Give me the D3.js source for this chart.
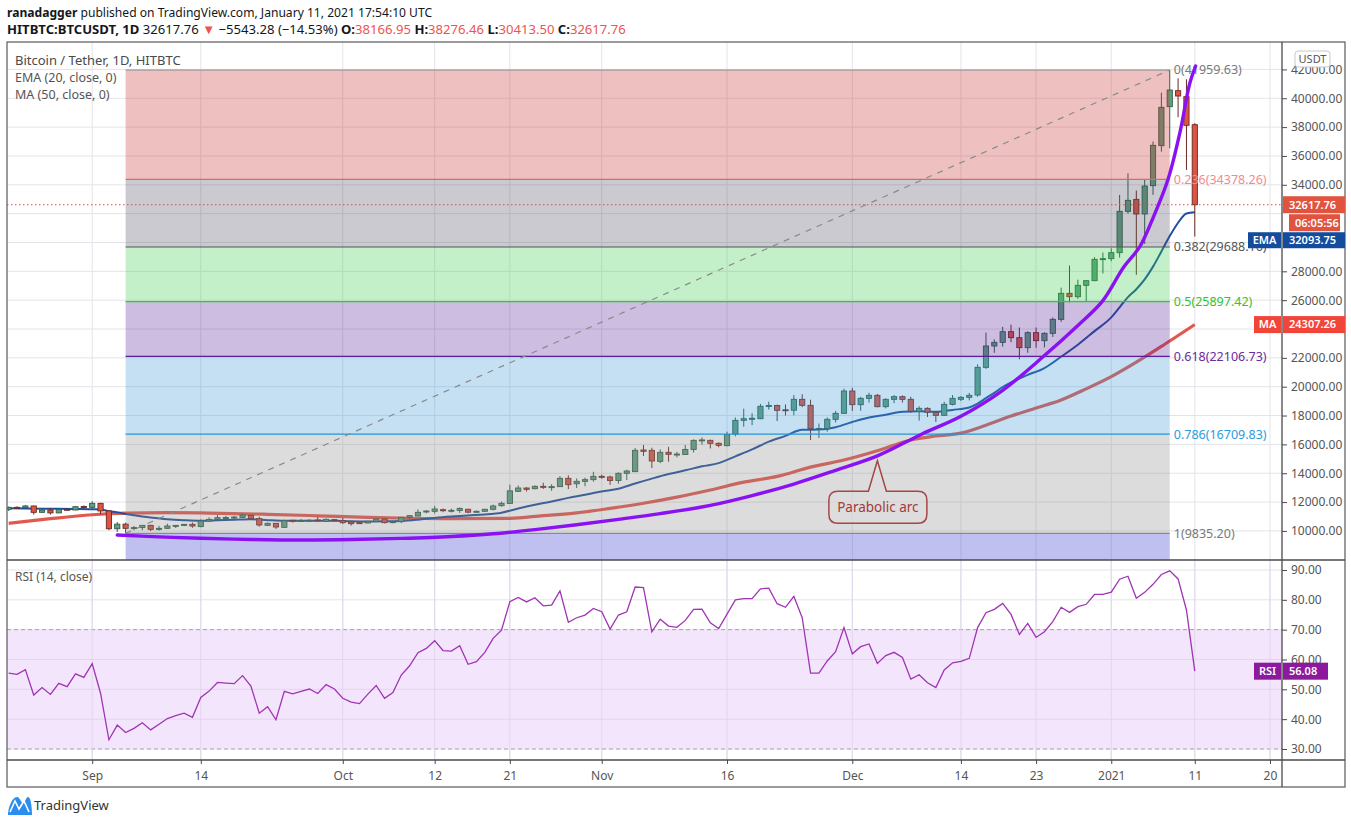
<!DOCTYPE html>
<html><head><meta charset="utf-8">
<script src="https://cdn.jsdelivr.net/npm/d3@7/dist/d3.min.js"></script>
<style>
html,body{margin:0;padding:0;background:#fff;overflow:hidden;}
svg{display:block;font-family:"Noto Sans","Open Sans",sans-serif;}
</style></head>
<body><svg id="c" width="1351" height="824"></svg>
<script>
// ---------------- DATA ----------------
const firstCandle = "2020-08-22";   // one candle per day from here
const opens = [
 11500,11636,11610,11730,11290,11450,11250,11500,11450,11690,
 11636,11913,11390,10150,10470,10180,10230,10385,10110,10180,10340,10385,10455,10300,10680,10790,10920,10930,10940,11081,10850,10388,10526,10249,10740,10690,10720,10760,10665,10780,
 10711,10619,10573,10549,10665,10827,10573,10642,10942,11035,11312,11360,11470,11420,11420,11500,11300,11360,11500,11750,11910,12745,12976,12930,13090,13030,13070,13646,13270,13440,13555,
 13785,13740,13500,13993,14110,15611,15588,14825,15450,15310,15300,15650,16280,16280,16075,15910,16720,17668,17750,17780,18640,18700,18400,18370,19124,18708,17090,17090,17737,18153,
 19702,18754,19193,19402,18616,19124,19309,19124,18292,18500,18223,18015,18777,19124,19263,19425,21343,22822,23077,23816,23400,22707,23747,23192,23700,24671,26474,26240,27029,27352,28832,
 28880,29294,32160,32990,31975,33939,36713,39417,40526,40110,38166.95];
const highs = [
 11690,11700,11800,11750,11530,11580,11550,11580,11720,11770,
 12060,11950,11450,10620,10570,10340,10400,10430,10350,10500,10400,10480,10580,10800,10940,11100,11040,11040,11180,11090,10990,10580,10550,10780,10760,10820,10800,10960,10860,10830,
 10900,10650,10600,10700,10840,10840,10690,10950,11100,11490,11440,11730,11560,11550,11630,11540,11420,11530,11830,12030,13200,13150,13030,13160,13340,13240,13800,13860,13640,13690,14100,
 13900,13830,14060,14250,15750,15960,15770,15650,15830,15480,15960,16350,16480,16330,16140,16880,17860,18480,18160,18800,18960,18750,18770,19420,19480,19100,17450,17870,18320,19860,
 19920,19300,19580,19500,19200,19420,19400,19300,18640,18570,18280,18950,19420,19350,19570,21550,23750,23280,24150,24300,24100,23840,24100,23780,24800,26870,28400,27420,27400,28980,29300,
 29600,33300,34800,33600,34400,37000,40390,41959.63,41383,41314,38276.46];
const lows = [
 11380,11530,11580,11130,11260,11130,11230,11420,11430,11560,
 11540,11160,10050,9930,9835.2,10040,10050,9990,10020,10150,10200,10330,10220,10250,10630,10680,10740,10820,10890,10780,10290,10350,10140,10200,10580,10660,10630,10670,10630,10660,
 10480,10370,10500,10530,10620,10520,10530,10540,10830,11010,11220,11200,11300,11280,11250,11220,11260,11330,11420,11680,11890,12700,12730,12880,12910,12780,13060,12900,12980,13100,13420,
 13620,13200,13280,13530,14080,15200,14360,14700,14800,15100,15280,15440,15980,15720,15800,15860,16560,17220,17340,17750,18410,17620,18000,18020,18580,16300,16450,16880,17520,18150,
 18320,18330,18900,18570,18500,18860,18900,18200,17650,17900,17560,18000,18700,19000,19050,19300,21230,22350,22780,23080,21900,22350,22700,22720,23450,24500,25850,26090,25870,27320,27850,
 28700,28950,32000,27750,29900,33300,36300,36530,38680,35026,30413.5];
const closes = [
 11636,11610,11730,11290,11450,11250,11500,11450,11680,11620,
 11913,11382,10150,10470,10180,10230,10385,10110,10180,10340,10385,10455,10340,10690,10800,10920,10930,10960,11104,10850,10411,10526,10272,10711,10690,10720,10740,10700,10804,10711,
 10573,10503,10526,10665,10827,10573,10642,10942,11058,11289,11381,11520,11420,11430,11560,11300,11360,11500,11728,11913,12780,12976,12885,13090,13030,13070,13646,13207,13440,13555,13785,
 13740,13500,13993,14155,15588,15519,14848,15450,15310,15330,15650,16280,16310,16075,15935,16675,17668,17780,17810,18640,18700,18362,18370,19125,18708,17090,17100,17737,18153,19702,
 18754,19193,19402,18616,19124,19309,19124,18292,18500,18223,18015,18777,19193,19263,19402,21343,22822,23077,23816,23400,22707,23747,23192,23700,24671,26474,26240,27029,27352,28832,28880,
 29294,32160,32922,31975,33916,36736,39371,40573,40157,38124,32617.76];
const rsiValues = [
 55.4,55.0,56.6,48.1,50.6,48.3,52.0,50.9,55.2,54.0,
 58.6,48.7,33.1,38.0,35.5,36.9,38.8,36.4,38.3,40.2,41.2,42.0,40.6,47.3,49.4,52.3,52.1,51.9,54.6,51.1,
 42.0,44.2,39.8,49.3,48.5,49.3,50.1,48.6,51.6,50.1,47.0,45.7,45.2,48.4,51.3,47.0,48.9,54.8,57.9,62.3,
 63.7,66.3,63.0,62.8,64.6,58.4,59.3,62.4,67.1,69.8,79.4,80.8,79.3,80.7,78.0,78.2,83.0,72.5,74.0,74.9,
 77.1,76.0,70.2,74.9,76.0,84.3,84.1,69.3,73.5,71.2,70.8,73.1,76.8,76.9,72.3,70.4,75.2,80.0,80.4,80.4,
 83.7,83.9,78.7,77.5,81.2,74.0,55.4,55.4,59.5,62.6,70.7,61.9,64.3,65.2,58.7,61.3,62.4,60.7,53.4,54.9,
 52.2,50.6,56.5,58.9,59.4,60.4,70.7,75.7,76.8,78.8,75.1,68.4,72.1,67.4,69.3,72.7,77.5,75.8,77.7,78.5,
 81.8,81.8,82.6,86.9,87.9,80.5,82.5,85.2,88.5,89.7,87.0,76.6,56.08];

// indicator lines: [days after 2020-09-01, price]
const emaPoints = [[-10,11570],[-6,11540],[-2,11520],[0,11500],[1,11480],[2,11370],[3,11285],[4,11180],[5,11090],[7,10936],[9,10814],[11,10743],[13,10703],[15,10732],[17,10771],[19,10807],[21,10746],[23,10702],[25,10700],[27,10700],[29,10705],[31,10672],[33,10659],[35,10665],[37,10690],[39,10779],[41,10901],[43,10996],[45,11074],[47,11139],[49,11263],[51,11558],[53,11818],[55,12041],[57,12290],[59,12510],[61,12737],[63,12923],[65,13283],[67,13625],[69,13943],[71,14200],[73,14480],[75,14700],[77,15170],[79,15650],[81,16190],[83,16590],[85,17010],[87,17025],[89,17190],[91,17555],[93,17870],[95,18055],[97,18265],[99,18290],[101,18258],[103,18391],[105,18562],[106,18827],[107,19207],[108,19576],[109,19980],[110,20305],[112,20816],[114,21295],[116,22078],[118,22908],[120,23855],[122,24805],[123,25505],[124,26211],[125,26760],[126,27441],[127,28326],[128,29378],[129,30444],[130,31369],[131,32012],[132,32093.75]];
const maPoints = [[-10,10526],[-5,10850],[0,11120],[4,11230],[9,11265],[14,11240],[21,11150],[27,11050],[33,10943],[38,10880],[43,10850],[50,10874],[54,11060],[58,11250],[62,11560],[66,11916],[70,12340],[74,12837],[78,13380],[82,13780],[86,14420],[90,14917],[94,15560],[98,16304],[101,16580],[104,16780],[107,17330],[110,17965],[113,18520],[116,19077],[119,19850],[122,20695],[125,21700],[128,22790],[130,23550],[132,24307.26]];
const arcPoints = [[3,9718],[8,9590],[13,9490],[19,9410],[25,9370],[31,9400],[37,9480],[43,9610],[48,9800],[53,10090],[58,10430],[63,10800],[68,11200],[74,11770],[79,12450],[84,13250],[89,14200],[94,15200],[99.3,16709],[104,17950],[109,19750],[113.9,22106],[118,24250],[120.9,25897],[123.5,28300],[125.4,29688],[127,31700],[128.8,34378],[130.2,37570],[131.4,41037],[132.1,42237]];

// Fibonacci retracement
const fibStart = "2020-09-05", fibEnd = "2021-01-08";
const fibRatios = ["0","0.236","0.382","0.5","0.618","0.786","1"];
const fibValues = [41959.63,34378.26,29688.16,25897.42,22106.73,16709.83,9835.20];

// axes
const xTickDates = ["2020-09-01","2020-09-14","2020-10-01","2020-10-12","2020-10-21","2020-11-01","2020-11-16","2020-12-01","2020-12-14","2020-12-23","2021-01-01","2021-01-11","2021-01-20"];
const xTickLabels = ["Sep","14","Oct","12","21","Nov","16","Dec","14","23","2021","11","20"];
const priceTicks = [10000,12000,14000,16000,18000,20000,22000,24000,26000,28000,30000,32000,34000,36000,38000,40000,42000];
const rsiTicks = [30,40,50,60,70,80,90];

const lastPrice = 32617.76, lastEma = 32093.75, lastMa = 24307.26, lastRsi = 56.08;
const countdown = "06:05:56";
const callout = {text:"Parabolic arc", day:94.0, price:14869};
const headerLine1 = [["ranadagger",1,0],[" published on TradingView.com, January 11, 2021 17:54:10 UTC",0,0]];
const headerLine2 = [["HITBTC:BTCUSDT, 1D",1,0],[" 32617.76 ",0,0],["▼",0,1],[" −5543.28 (−14.53%) ",0,0],["O:",1,0],["38166.95",0,1],[" H:",1,0],["38276.46",0,1],[" L:",1,0],["30413.50",0,1],[" C:",1,0],["32617.76",0,1]];

// ---------------- LAYOUT ----------------
const L=7, R=1282, T=42, MB=560, RB=760, XB=787, OR=1345;
const DAY=864e5, SEP1=Date.UTC(2020,8,1);
const dayDate = d => new Date(SEP1 + d*DAY);
const parseD = s => new Date(s+"T00:00:00Z");
const x = d3.scaleUtc().domain([dayDate(-10.2), dayDate(142.44)]).range([L,R]);
const y = d3.scaleLinear().domain([7983.6,43901]).range([MB,T]);
const yr = d3.scaleLinear().domain([26.31,93.35]).range([RB,MB]);
const svg = d3.select("#c");
const GRID="#e3e4ea", AX="#4a4a4a", TXT="#555";
const RED="#ef5350";

const start = parseD(firstCandle).getTime();
const candles = opens.map((o,i)=>({date:new Date(start+i*DAY), o, h:highs[i], l:lows[i], c:closes[i], rsi:rsiValues[i]}));

// header
const h1 = svg.append("text").attr("x",7).attr("y",17).attr("font-size",12.1).attr("fill","#131722");
headerLine1.forEach(([t,b,r])=>h1.append("tspan").text(t).attr("font-weight",b?700:400).attr("fill",r?RED:null));
const h2 = svg.append("text").attr("x",7).attr("y",34).attr("font-size",13.1).attr("fill","#131722").style("white-space","pre");
headerLine2.forEach(([t,b,r])=>h2.append("tspan").text(t).attr("font-weight",b?700:400).attr("fill",r?RED:null));

// clip paths
const defs = svg.append("defs");
defs.append("clipPath").attr("id","cm").append("rect").attr("x",L).attr("y",T).attr("width",R-L).attr("height",MB-T);
defs.append("clipPath").attr("id","cr").append("rect").attr("x",L).attr("y",MB).attr("width",R-L).attr("height",RB-MB);

// grids
const tickDates = xTickDates.map(parseD);
const grid = svg.append("g");
grid.selectAll("line.v").data(tickDates).join("line").attr("x1",d=>x(d)).attr("x2",d=>x(d)).attr("y1",T).attr("y2",RB).attr("stroke",GRID);
grid.selectAll("line.hp").data(priceTicks).join("line").attr("x1",L).attr("x2",R).attr("y1",d=>y(d)).attr("y2",d=>y(d)).attr("stroke",GRID);
grid.selectAll("line.hr").data(rsiTicks).join("line").attr("x1",L).attr("x2",R).attr("y1",d=>yr(d)).attr("y2",d=>yr(d)).attr("stroke",GRID);

// ---------- main pane ----------
const main = svg.append("g").attr("clip-path","url(#cm)");
const lineGen = d3.line().x(p=>x(dayDate(p[0]))).y(p=>y(p[1])).curve(d3.curveMonotoneX);
main.append("path").attr("d",lineGen(maPoints)).attr("fill","none").attr("stroke","#e0463a").attr("stroke-width",3.2).attr("stroke-opacity",0.9);
main.append("path").attr("d",lineGen(emaPoints)).attr("fill","none").attr("stroke","#1f4f9e").attr("stroke-width",2);

// candles
const cg = main.append("g");
cg.selectAll("line").data(candles).join("line")
  .attr("x1",d=>x(d.date)).attr("x2",d=>x(d.date)).attr("y1",d=>y(d.h)).attr("y2",d=>y(d.l))
  .attr("stroke",d=>d.c>=d.o?"#2f5e48":"#6b2a22").attr("stroke-width",1);
cg.selectAll("rect").data(candles).join("rect")
  .attr("x",d=>x(d.date)-2.6).attr("width",5.2)
  .attr("y",d=>y(Math.max(d.o,d.c))).attr("height",d=>Math.max(1,Math.abs(y(d.o)-y(d.c))))
  .attr("fill",d=>d.c>=d.o?"#5f9f7e":"#dc5543").attr("stroke",d=>d.c>=d.o?"#2f5e48":"#6b2a22").attr("stroke-width",0.9);

// fib zones
const fx1 = x(parseD(fibStart)), fx2 = x(parseD(fibEnd));
const zoneColors = ["#ca3030","#4e4e62","#37cd48","#582398","#3a98d4","#8a8a8a","#2d2dcd"];
const lineColors = ["#8a8a8a","#d86a6a","#555","#2ccc2c","#5a1c98","#2196d6","#8a8a8a"];
const labelColors = ["#7a7a7a","#f08c8c","#555","#2fc52f","#6a2c9c","#2b9ddb","#7a7a7a"];
const zones = fibValues.map((v,i)=>({top:v, bot: i<fibValues.length-1? fibValues[i+1] : null, col:zoneColors[i]}));
const fg = main.append("g");
fg.selectAll("rect").data(zones.slice(0,6)).join("rect")
  .attr("x",fx1).attr("width",fx2-fx1).attr("y",d=>y(d.top)).attr("height",d=>y(d.bot)-y(d.top))
  .attr("fill",d=>d.col).attr("fill-opacity",0.3);
fg.append("rect").attr("x",fx1).attr("width",fx2-fx1).attr("y",y(fibValues[6])).attr("height",MB-y(fibValues[6]))
  .attr("fill",zoneColors[6]).attr("fill-opacity",0.3);
fg.selectAll("line").data(fibValues).join("line")
  .attr("x1",fx1).attr("x2",fx2).attr("y1",d=>y(d)).attr("y2",d=>y(d))
  .attr("stroke",(d,i)=>lineColors[i]).attr("stroke-width",1.2);
fg.append("line").attr("x1",fx1).attr("y1",y(fibValues[6])).attr("x2",fx2).attr("y2",y(fibValues[0]))
  .attr("stroke","#8a8a8a").attr("stroke-width",1.2).attr("stroke-dasharray","6,6");
fg.selectAll("text").data(fibValues).join("text")
  .attr("x",fx2+4).attr("y",d=>y(d)).attr("dy","0.35em").attr("font-size",12.5)
  .attr("fill",(d,i)=>labelColors[i]).text((d,i)=>`${fibRatios[i]}(${d3.format(".2f")(d)})`);

// last price dotted line
main.append("line").attr("x1",L).attr("x2",R).attr("y1",y(lastPrice)).attr("y2",y(lastPrice))
  .attr("stroke","#d9503f").attr("stroke-dasharray","1.5,2.5").attr("stroke-width",1);

// parabolic arc
main.append("path").attr("d",d3.line().x(p=>x(dayDate(p[0]))).y(p=>y(p[1])).curve(d3.curveCatmullRom)(arcPoints))
  .attr("fill","none").attr("stroke","#8a12f2").attr("stroke-width",3.4).attr("stroke-linecap","round");

// callout
{
  const tx = x(dayDate(callout.day)), ty = y(callout.price);
  const l = tx-48.5, r = tx+49.5, t = ty+30.5, b = t+32, rad = 9;
  const p = `M${l+rad},${t} L${tx-9},${t} L${tx},${ty} L${tx+9},${t} L${r-rad},${t} Q${r},${t} ${r},${t+rad} L${r},${b-rad} Q${r},${b} ${r-rad},${b} L${l+rad},${b} Q${l},${b} ${l},${b-rad} L${l},${t+rad} Q${l},${t} ${l+rad},${t} Z`;
  main.append("path").attr("d",p).attr("fill","#dedede").attr("fill-opacity",0.6).attr("stroke","#a54747").attr("stroke-width",1.5);
  main.append("text").attr("x",(l+r)/2).attr("y",(t+b)/2).attr("dy","0.35em").attr("text-anchor","middle")
    .attr("font-size",13.5).attr("fill","#a33a3a").text(callout.text);
}

// legend
const lg = svg.append("g").attr("font-size",12.5).attr("fill",TXT);
lg.append("text").attr("x",15).attr("y",65).attr("font-size",13).attr("fill","#4a4a4a").text("Bitcoin / Tether, 1D, HITBTC");
lg.append("text").attr("x",15).attr("y",82).text("EMA (20, close, 0)");
lg.append("text").attr("x",15).attr("y",99).text("MA (50, close, 0)");

// ---------- RSI pane ----------
const rp = svg.append("g").attr("clip-path","url(#cr)");
rp.append("rect").attr("x",L).attr("width",R-L).attr("y",yr(70)).attr("height",yr(30)-yr(70)).attr("fill","#f3e5fc");
[70,30].forEach(v=>rp.append("line").attr("x1",L).attr("x2",R).attr("y1",yr(v)).attr("y2",yr(v)).attr("stroke","#a3a3a8").attr("stroke-dasharray","4,3"));
rp.selectAll("line.g").data(tickDates).join("line").attr("class","g").attr("x1",d=>x(d)).attr("x2",d=>x(d)).attr("y1",MB).attr("y2",RB).attr("stroke","#e2d6ec");
rp.selectAll("line.h").data([40,50,60]).join("line").attr("class","h").attr("x1",L).attr("x2",R).attr("y1",d=>yr(d)).attr("y2",d=>yr(d)).attr("stroke","#e2d6ec");
rp.append("path").attr("d",d3.line().x(d=>x(d.date)).y(d=>yr(d.rsi))(candles)).attr("fill","none").attr("stroke","#a034b4").attr("stroke-width",1.3);
svg.append("text").attr("x",15).attr("y",581).attr("font-size",12).attr("fill",TXT).text("RSI (14, close)");

// ---------- borders ----------
const bd = svg.append("g").attr("stroke",AX).attr("fill","none");
bd.append("rect").attr("x",L).attr("y",T).attr("width",OR-L).attr("height",XB-T).attr("stroke","#666").attr("stroke-width",1.3);
bd.append("line").attr("x1",L).attr("x2",OR).attr("y1",MB).attr("y2",MB).attr("stroke-width",1.6);
bd.append("line").attr("x1",L).attr("x2",OR).attr("y1",RB).attr("y2",RB).attr("stroke-width",1.6);
bd.append("line").attr("x1",R).attr("x2",R).attr("y1",T).attr("y2",XB).attr("stroke-width",1.3);

// ---------- axes ----------
const xa = svg.append("g").attr("transform",`translate(0,${RB})`)
  .call(d3.axisBottom(x).tickValues(tickDates).tickFormat((d,i)=>xTickLabels[i]).tickSize(4).tickPadding(7));
xa.select(".domain").remove();
xa.selectAll("line").attr("stroke",AX);
xa.selectAll("text").attr("font-size",12).attr("fill",TXT).attr("font-family","Noto Sans, Open Sans, sans-serif");

// badge positions (stacked so they do not overlap)
const priceY = y(lastPrice);
const cdTop = priceY+8.5+1;
const emaTop = Math.max(y(lastEma)-8, cdTop+17+1);
const hiddenYs = [[priceY-8.5, cdTop+17],[emaTop, emaTop+16],[y(lastMa)-8.5,y(lastMa)+8.5]];
const ticksShown = priceTicks.filter(v=>!hiddenYs.some(([a,b])=>y(v)>a-6 && y(v)<b+6));

const ya = svg.append("g").attr("transform",`translate(${R},0)`)
  .call(d3.axisRight(y).tickValues(ticksShown).tickFormat(d3.format(".2f")).tickSize(5).tickPadding(4));
ya.select(".domain").remove();
ya.selectAll("line").attr("stroke",AX);
ya.selectAll("text").attr("font-size",12).attr("fill",TXT).attr("font-family","Noto Sans, Open Sans, sans-serif");

const ra = svg.append("g").attr("transform",`translate(${R},0)`)
  .call(d3.axisRight(yr).tickValues(rsiTicks).tickFormat(d3.format(".2f")).tickSize(5).tickPadding(4));
ra.select(".domain").remove();
ra.selectAll("line").attr("stroke",AX);
ra.selectAll("text").attr("font-size",12).attr("fill",TXT).attr("font-family","Noto Sans, Open Sans, sans-serif");

// USDT label
svg.append("rect").attr("x",1295).attr("y",51).attr("width",35).attr("height",16).attr("rx",3).attr("fill","#fff").attr("stroke","#c9c9cf");
svg.append("text").attr("x",1312.5).attr("y",59).attr("dy","0.35em").attr("text-anchor","middle").attr("font-size",11).attr("fill",TXT).text("USDT");

// badges
const bg = svg.append("g").attr("font-size",11).attr("font-weight",600).attr("fill","#fff");
function valueBox(top,h,x0,x1,col,txt){
  bg.append("rect").attr("x",x0).attr("y",top).attr("width",x1-x0).attr("height",h).attr("fill",col);
  bg.append("text").attr("x",x0+6).attr("y",top+h/2).attr("dy","0.35em").text(txt);
}
function nameBox(top,h,x0,x1,col,txt){
  bg.append("rect").attr("x",x0).attr("y",top).attr("width",x1-x0).attr("height",h).attr("fill",col);
  bg.append("text").attr("x",(x0+x1)/2).attr("y",top+h/2).attr("dy","0.35em").attr("text-anchor","middle").text(txt);
}
valueBox(priceY-8.5,17,R+1,OR,"#e0533f",d3.format(".2f")(lastPrice));
valueBox(cdTop,17,1289,1340,"#e0533f",countdown);
nameBox(emaTop,16,1248,R-1,"#134c9e","EMA");
valueBox(emaTop,16,R+1,OR,"#134c9e",d3.format(".2f")(lastEma));
nameBox(y(lastMa)-8.5,17,1254,R-1,"#f2453a","MA");
valueBox(y(lastMa)-8.5,17,R+1,OR,"#f2453a",d3.format(".2f")(lastMa));
nameBox(yr(lastRsi)-8.5,17,1254,R-1,"#8b1a9c","RSI");
valueBox(yr(lastRsi)-8.5,17,R+1,1328,"#8b1a9c",d3.format(".2f")(lastRsi));

// TradingView logo
const logo = svg.append("g");
logo.append("path").attr("d","M8,815 C8,808 12,797 17,797 C20,797 21,803 23,803 C25,803 26,797 28,797 C31,797 32,808 32,815 Z").attr("fill","#2a8ef0");
logo.append("path").attr("d","M10,812 L15,801 L19,809 L24,801 L29,812").attr("fill","none").attr("stroke","#fff").attr("stroke-width",1.6);
logo.append("text").attr("x",34).attr("y",810).attr("font-size",13).attr("fill","#333").text("TradingView");
</script>
</body></html>
